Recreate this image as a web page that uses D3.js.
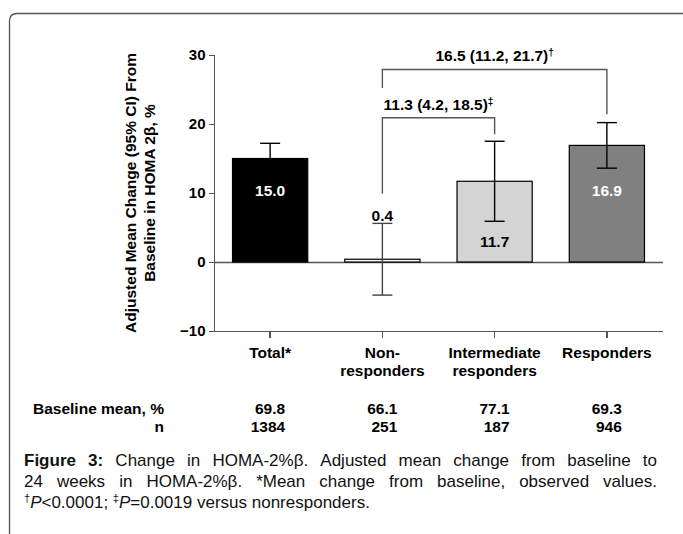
<!DOCTYPE html>
<meta charset="utf-8">
<style>
body{ margin:0; background:#fff; }
svg text{ font-family:"Liberation Sans", Arial, sans-serif; }
.axis text{ font-size:15px; font-weight:bold; fill:#000; }
.axis path, .axis line{ stroke:#555; stroke-width:1.3; shape-rendering:crispEdges; }
.lbl{ font-size:15.5px; font-weight:bold; }
.cap{ font-size:17px; fill:#111; }
</style>
<svg class="chart"></svg>
<script src="https://cdnjs.cloudflare.com/ajax/libs/d3/7.8.5/d3.min.js" charset="utf-8"></script>
<script>
var categories = ["Total*", "Non-responders", "Intermediate responders", "Responders"];
var categoryLines = [["Total*"], ["Non-", "responders"], ["Intermediate", "responders"], ["Responders"]];
var means = [15.0, 0.4, 11.7, 16.9];
var ciLow = [12.8, -4.8, 5.9, 13.6];
var ciHigh = [17.2, 5.6, 17.5, 20.2];
var barColors = ["#000000", "#ffffff", "#d4d4d4", "#808080"];
var labelColors = ["#fff", "#000", "#000", "#fff"];
var labelAt = [10.3, 6.7, 3.0, 10.3];
var baselineMean = ["69.8", "66.1", "77.1", "69.3"];
var nValues = ["1384", "251", "187", "946"];
var yTicks = [-10, 0, 10, 20, 30];

// comparison brackets: from/to are category indexes, heights in y units
var bracketFrom = [1, 1];
var bracketTo = [2, 3];
var bracketLevel = [20.9, 27.9];
var bracketLeftEnd = [9.9, 25.2];
var bracketRightEnd = [18.5, 21.4];
var bracketText = ["11.3 (4.2, 18.5)", "16.5 (11.2, 21.7)"];
var bracketMark = ["\u2021", "\u2020"];

var W = 683, H = 534;

var svg = d3.select(".chart")
	.attr("width", W)
	.attr("height", H);

// frame
svg.append("path")
	.attr("d", "M" + (W + 5) + ",13.5 H17 Q9.5,13.5 9.5,21 V" + (H + 5))
	.attr("fill", "none")
	.attr("stroke", "#555")
	.attr("stroke-width", 1.3);

var y = d3.scaleLinear()
	.domain([-10, 30])
	.range([331, 55]);

var x = d3.scaleBand()
	.domain(categories)
	.range([214, 663])
	.paddingInner(0.33)
	.paddingOuter(0.165);

var cx = function(i){ return x(categories[i]) + x.bandwidth() / 2; };

// y axis
svg.append("g")
	.attr("class", "y axis")
	.attr("transform", "translate(214.5,0)")
	.call(d3.axisLeft(y).tickValues(yTicks).tickSize(6).tickPadding(3).tickFormat(d3.format("d")))
	.select(".domain").attr("d", "M0," + y(30) + "V" + y(-10));

// x axis at bottom
var xa = svg.append("g")
	.attr("class", "x axis")
	.attr("transform", "translate(0," + (y(-10) + 0.5) + ")")
	.call(d3.axisBottom(x).tickSize(6).tickFormat(""));
xa.select(".domain").attr("d", "M214,0H663");

// zero line
svg.append("line")
	.attr("x1", 214).attr("x2", 663)
	.attr("y1", Math.round(y(0)) + 0.5).attr("y2", Math.round(y(0)) + 0.5)
	.attr("stroke", "#555").attr("stroke-width", 1.5);

// bars
svg.selectAll(".bar")
		.data(means)
	.enter().append("rect")
		.attr("class", "bar")
		.attr("x", function(d, i){ return x(categories[i]); })
		.attr("y", function(d){ return y(Math.max(d, 0)); })
		.attr("width", x.bandwidth())
		.attr("height", function(d){ return Math.abs(y(d) - y(0)); })
		.attr("fill", function(d, i){ return barColors[i]; })
		.attr("stroke", "#000")
		.attr("stroke-width", 1.2);

// error bars
var eb = svg.selectAll(".err")
		.data(means)
	.enter().append("g")
		.attr("class", "err")
		.attr("stroke", function(d, i){ return i == 1 ? "#444" : "#000"; })
		.attr("stroke-width", 1.4);
eb.append("line")
	.attr("x1", function(d, i){ return cx(i); })
	.attr("x2", function(d, i){ return cx(i); })
	.attr("y1", function(d, i){ return y(ciLow[i]); })
	.attr("y2", function(d, i){ return y(ciHigh[i]); });
eb.append("line")
	.attr("x1", function(d, i){ return cx(i) - 10; })
	.attr("x2", function(d, i){ return cx(i) + 10; })
	.attr("y1", function(d, i){ return y(ciHigh[i]); })
	.attr("y2", function(d, i){ return y(ciHigh[i]); });
eb.append("line")
	.attr("x1", function(d, i){ return cx(i) - 10; })
	.attr("x2", function(d, i){ return cx(i) + 10; })
	.attr("y1", function(d, i){ return y(ciLow[i]); })
	.attr("y2", function(d, i){ return y(ciLow[i]); });

// value labels
svg.selectAll(".val")
		.data(means)
	.enter().append("text")
		.attr("class", "val lbl")
		.attr("x", function(d, i){ return cx(i); })
		.attr("y", function(d, i){ return y(labelAt[i]); })
		.attr("dy", "0.35em")
		.attr("text-anchor", "middle")
		.attr("fill", function(d, i){ return labelColors[i]; })
		.text(function(d){ return d.toFixed(1); });

// brackets
bracketText.forEach(function(t, k){
	var x1 = cx(bracketFrom[k]), x2 = cx(bracketTo[k]);
	svg.append("path")
		.attr("d", "M" + x1 + "," + y(bracketLeftEnd[k]) + "V" + y(bracketLevel[k]) +
			"H" + x2 + "V" + y(bracketRightEnd[k]))
		.attr("fill", "none")
		.attr("stroke", "#555")
		.attr("stroke-width", 1.4);
	var tx = svg.append("text")
		.attr("class", "lbl")
		.attr("x", (x1 + x2) / 2)
		.attr("y", y(bracketLevel[k]) - 8)
		.attr("text-anchor", "middle");
	tx.append("tspan").text(t);
	tx.append("tspan").attr("dy", -5).attr("font-size", "10px").text(bracketMark[k]);
});

// category labels
svg.selectAll(".cat")
		.data(categoryLines)
	.enter().append("text")
		.attr("class", "cat lbl")
		.attr("text-anchor", "middle")
		.attr("y", 358)
		.each(function(lines, i){
			var t = d3.select(this);
			lines.forEach(function(s, j){
				t.append("tspan").attr("x", cx(i)).attr("dy", j ? 18 : 0).text(s);
			});
		});

// y axis title
var yt = svg.append("text")
	.attr("class", "lbl")
	.attr("text-anchor", "middle")
	.attr("transform", "translate(136,193) rotate(-90)");
yt.append("tspan").attr("x", 0).attr("dy", 0).text("Adjusted Mean Change (95% CI) From");
yt.append("tspan").attr("x", 0).attr("dy", 19).text("Baseline in HOMA 2\u03b2, %");

// table below
svg.append("text").attr("class", "lbl").attr("x", 33).attr("y", 414).text("Baseline mean, %");
svg.append("text").attr("class", "lbl").attr("x", 164).attr("y", 432).attr("text-anchor", "end").text("n");
svg.selectAll(".bm")
		.data(baselineMean)
	.enter().append("text")
		.attr("class", "bm lbl")
		.attr("text-anchor", "end")
		.attr("x", function(d, i){ return cx(i) + 15; })
		.attr("y", 414)
		.text(function(d){ return d; });
svg.selectAll(".nv")
		.data(nValues)
	.enter().append("text")
		.attr("class", "nv lbl")
		.attr("text-anchor", "end")
		.attr("x", function(d, i){ return cx(i) + 15; })
		.attr("y", 432)
		.text(function(d){ return d; });

// caption
var capLeft = 24, capRight = 657;
var c1 = svg.append("text").attr("class", "cap").attr("x", capLeft).attr("y", 466);
c1.append("tspan").attr("font-weight", "bold").text("Figure 3:");
c1.append("tspan").text(" Change in HOMA-2%\u03b2. Adjusted mean change from baseline to");
var c2 = svg.append("text").attr("class", "cap").attr("x", capLeft).attr("y", 487)
	.text("24 weeks in HOMA-2%\u03b2. *Mean change from baseline, observed values.");
var c3 = svg.append("text").attr("class", "cap").attr("x", capLeft).attr("y", 508);
c3.append("tspan").attr("font-size", "11px").attr("dy", -6).text("\u2020");
c3.append("tspan").attr("font-style", "italic").attr("dy", 6).text("P");
c3.append("tspan").text("<0.0001; ");
c3.append("tspan").attr("font-size", "11px").attr("dy", -6).text("\u2021");
c3.append("tspan").attr("font-style", "italic").attr("dy", 6).text("P");
c3.append("tspan").text("=0.0019 versus nonresponders.");

// justify the first two caption lines
[c1, c2].forEach(function(t){
	var full = t.text();
	var spaces = full.split(" ").length - 1;
	var w = t.node().getComputedTextLength();
	t.attr("word-spacing", Math.max(0, (capRight - capLeft - w) / spaces));
});
</script>
